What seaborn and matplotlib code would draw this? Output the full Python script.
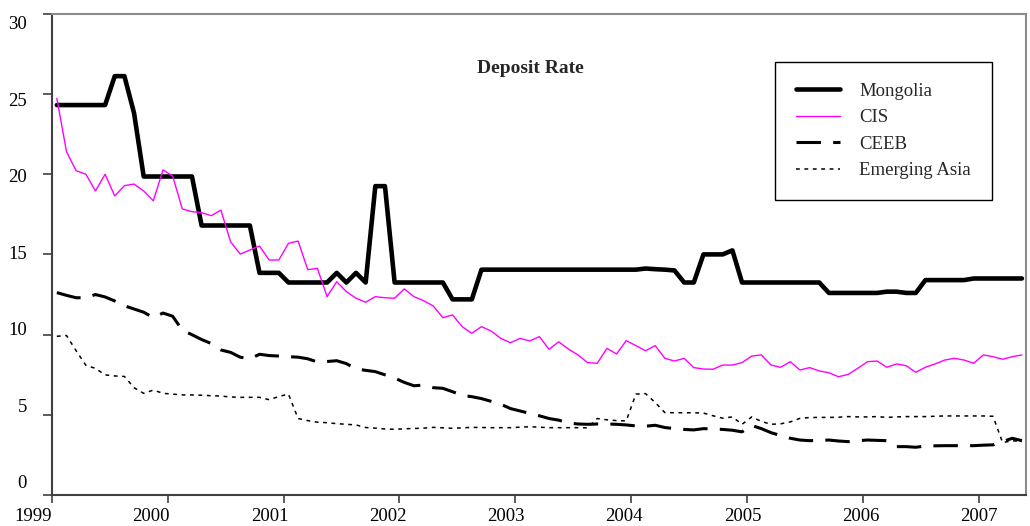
import numpy as np
import matplotlib
matplotlib.use("Agg")
import matplotlib.pyplot as plt
import matplotlib.transforms as mtransforms
import seaborn as sns

# monthly deposit rates (%), Jan 1999 - May 2007
mongolia = [24.3, 24.3, 24.3, 24.3, 24.3, 24.3, 26.1, 26.1, 23.8, 19.85,
            19.85, 19.85, 19.85, 19.85, 19.85, 16.8, 16.8, 16.8, 16.8, 16.8,
            16.8, 13.85, 13.85, 13.85, 13.25, 13.25, 13.25, 13.25, 13.25, 13.85,
            13.25, 13.85, 13.25, 19.25, 19.25, 13.25, 13.25, 13.25, 13.25, 13.25,
            13.25, 12.2, 12.2, 12.2, 14.05, 14.05, 14.05, 14.05, 14.05, 14.05,
            14.05, 14.05, 14.05, 14.05, 14.05, 14.05, 14.05, 14.05, 14.05, 14.05,
            14.05, 14.12, 14.08, 14.05, 14.0, 13.25, 13.25, 15.0, 15.0, 15.0,
            15.25, 13.25, 13.25, 13.25, 13.25, 13.25, 13.25, 13.25, 13.25, 13.25,
            12.6, 12.6, 12.6, 12.6, 12.6, 12.6, 12.68, 12.68, 12.6, 12.6,
            13.4, 13.4, 13.4, 13.4, 13.4, 13.5, 13.5, 13.5, 13.5, 13.5,
            13.5]
cis = [24.72, 21.4, 20.21, 20.0, 18.95, 19.99, 18.64, 19.28, 19.38, 18.95,
       18.34, 20.26, 19.88, 17.83, 17.66, 17.6, 17.41, 17.76, 15.79, 15.02,
       15.27, 15.52, 14.65, 14.65, 15.69, 15.83, 14.05, 14.13, 12.37, 13.3,
       12.68, 12.27, 12.02, 12.37, 12.3, 12.27, 12.85, 12.37, 12.12, 11.79,
       11.06, 11.23, 10.5, 10.09, 10.5, 10.23, 9.77, 9.5, 9.77, 9.61,
       9.88, 9.09, 9.56, 9.11, 8.74, 8.26, 8.22, 9.15, 8.8, 9.63,
       9.32, 9.0, 9.32, 8.53, 8.36, 8.53, 7.95, 7.86, 7.85, 8.11,
       8.11, 8.26, 8.67, 8.74, 8.11, 7.97, 8.32, 7.8, 7.95, 7.74,
       7.63, 7.38, 7.53, 7.91, 8.32, 8.36, 7.97, 8.18, 8.07, 7.66,
       7.97, 8.18, 8.42, 8.53, 8.42, 8.22, 8.74, 8.63, 8.47, 8.63,
       8.74]
ceeb = [12.62, 12.45, 12.3, 12.3, 12.5, 12.35, 12.1, 11.8, 11.6, 11.4,
        11.06, 11.35, 11.15, 10.28, 10.0, 9.7, 9.45, 9.05, 8.9, 8.6,
        8.5, 8.78, 8.7, 8.67, 8.63, 8.6, 8.5, 8.3, 8.33, 8.38,
        8.2, 7.87, 7.78, 7.7, 7.5, 7.3, 7.03, 6.82, 6.86, 6.7,
        6.66, 6.45, 6.22, 6.14, 6.02, 5.85, 5.67, 5.4, 5.25, 5.1,
        4.95, 4.78, 4.68, 4.5, 4.44, 4.42, 4.44, 4.44, 4.42, 4.38,
        4.32, 4.3, 4.36, 4.22, 4.15, 4.1, 4.07, 4.15, 4.13, 4.1,
        4.05, 3.95, 4.35, 4.15, 3.9, 3.72, 3.55, 3.44, 3.4, 3.42,
        3.44, 3.38, 3.34, 3.4, 3.44, 3.42, 3.4, 3.03, 3.03, 2.99,
        3.07, 3.08, 3.09, 3.09, 3.09, 3.09, 3.12, 3.14, 3.34, 3.55,
        3.4]
emerging_asia = [9.9, 9.95, 9.0, 8.1, 7.9, 7.5, 7.43, 7.4, 6.7, 6.35,
                 6.55, 6.35, 6.3, 6.25, 6.25, 6.23, 6.2, 6.18, 6.12, 6.1,
                 6.1, 6.1, 5.95, 6.15, 6.3, 4.78, 4.65, 4.55, 4.52, 4.46,
                 4.42, 4.38, 4.22, 4.18, 4.13, 4.11, 4.14, 4.16, 4.18, 4.23,
                 4.2, 4.17, 4.2, 4.23, 4.22, 4.21, 4.21, 4.21, 4.24, 4.27,
                 4.24, 4.21, 4.21, 4.21, 4.21, 4.2, 4.78, 4.7, 4.65, 4.63,
                 6.3, 6.33, 5.78, 5.15, 5.14, 5.14, 5.14, 5.12, 4.95, 4.8,
                 4.88, 4.42, 4.88, 4.6, 4.42, 4.45, 4.57, 4.79, 4.84, 4.85,
                 4.85, 4.86, 4.9, 4.88, 4.88, 4.9, 4.85, 4.88, 4.9, 4.9,
                 4.9, 4.92, 4.94, 4.94, 4.94, 4.94, 4.94, 4.92, 3.28, 3.4,
                 3.34]

series_names = ["Mongolia", "CIS", "CEEB", "Emerging Asia"]
year_labels = ["1999", "2000", "2001", "2002", "2003", "2004", "2005", "2006", "2007"]
y_values = [0, 5, 10, 15, 20, 25, 30]

# month centres as fractional years
months = 1999 + (np.arange(len(mongolia)) + 0.5) / 12

sns.set_style("ticks")
plt.rcParams["font.family"] = ["Liberation Serif", "DejaVu Serif"]

fig = plt.figure(figsize=(10.3, 5.26), dpi=100)
ax = fig.add_axes([0.0505, 0.0584, 0.9456, 0.9159])

styles = [("black", 3.3, "-"),
          ("#ff00ff", 1.0, "-"),
          ("black", 2.2, (0, (8, 4))),
          ("black", 1.1, (0, (2.5, 3)))]
for name, vals, (c, lw, ls) in zip(series_names, [mongolia, cis, ceeb, emerging_asia], styles):
    sns.lineplot(x=months, y=vals, color=c, linewidth=lw, linestyle=ls, label=name, ax=ax)

years = np.arange(1999, 2008)
ax.set_xticks(years, year_labels)
ax.set_yticks(y_values, [str(v) for v in y_values])
ax.set_xlim(1999, 2007.41)
ax.set_ylim(0, 30)
ax.tick_params(direction="out", width=1.2, color="#404040", labelsize=13.5, labelcolor="black")
ax.tick_params(axis="x", length=6, pad=3.5)
ax.tick_params(axis="y", length=6.5, pad=11.5)
ax.set_xlabel("")
ax.set_ylabel("")

# Excel spreads the labels a little differently from the ticks: nudge each one (pixels)
for k, lab in enumerate(ax.get_xticklabels()):
    dx = (-19.2 + 2.5 * k) / 100
    lab.set_transform(lab.get_transform() + mtransforms.ScaledTranslation(dx, 0, fig.dpi_scale_trans))
for k, lab in enumerate(ax.get_yticklabels()):
    dy = (3.85 * (6 - k) - 9.3) / 100
    lab.set_transform(lab.get_transform() + mtransforms.ScaledTranslation(0, dy, fig.dpi_scale_trans))

for side in ["left", "bottom"]:
    ax.spines[side].set_color("#404040")
    ax.spines[side].set_linewidth(1.5)
for side in ["top", "right"]:
    ax.spines[side].set_color("#8c8c8c")
    ax.spines[side].set_linewidth(1.5)

leg = ax.legend(loc="upper left", bbox_to_anchor=(775 / 1030, 1 - 62 / 526),
                bbox_transform=fig.transFigure, frameon=True, fancybox=False,
                edgecolor="black", fontsize=13.5, handlelength=2.35, handletextpad=1.05,
                labelspacing=0.5, borderpad=1.1, borderaxespad=0)
leg.get_frame().set_linewidth(1.0)
leg.get_frame().set_alpha(1)

fig.text(0.5146, 0.8707, "Deposit Rate", ha="center", va="center",
         fontsize=14, fontweight="bold")

fig.savefig("out.png", dpi=100)
